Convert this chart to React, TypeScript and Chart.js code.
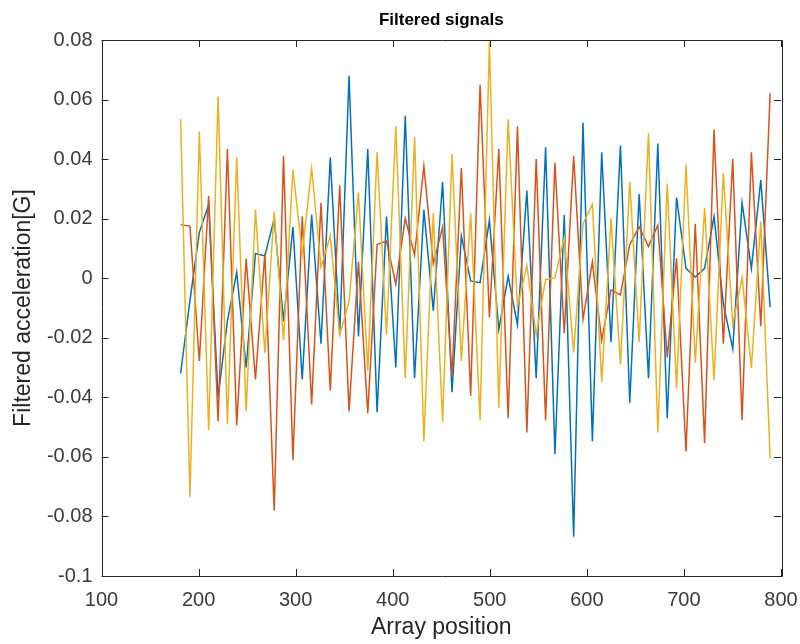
import React, { useEffect, useRef } from "react";
import { Chart, registerables } from "chart.js";

Chart.register(...registerables);

const positions = [
  181.5, 191.1, 200.8, 210.4, 220.1, 229.7, 239.3, 249.0, 258.6, 268.3,
  277.9, 287.5, 297.2, 306.8, 316.5, 326.1, 335.7, 345.4, 355.0, 364.7,
  374.3, 383.9, 393.6, 403.2, 412.9, 422.5, 432.1, 441.8, 451.4, 461.1,
  470.7, 480.3, 490.0, 499.6, 509.3, 518.9, 528.5, 538.2, 547.8, 557.5,
  567.1, 576.7, 586.4, 596.0, 605.7, 615.3, 624.9, 634.6, 644.2, 653.9,
  663.5, 673.1, 682.8, 692.4, 702.1, 711.7, 721.3, 731.0, 740.6, 750.3,
  759.9, 769.5, 779.2, 788.8,
];

const signal1 = [
  -0.032, -0.0075, 0.0154, 0.0247, -0.04, -0.0144, 0.002, -0.03, 0.0083, 0.0075,
  0.02, -0.0144, 0.0172, -0.034, 0.0213, -0.022, 0.0405, -0.019, 0.068, -0.0196,
  0.0434, -0.045, 0.0207, -0.03, 0.0545, -0.0336, 0.023, -0.0109, 0.0323, -0.0383,
  0.0142, -0.0009, -0.0015, 0.0195, -0.0173, 0.0006, -0.0156, 0.0294, -0.0336, 0.044,
  -0.059, 0.0213, -0.0868, 0.0522, -0.0547, 0.0423, -0.0214, 0.0446, -0.0418, 0.0283,
  -0.0336, 0.0452, -0.047, 0.0271, 0.0033, 0.0004, 0.0033, 0.0207, -0.0085, -0.0237,
  0.0253, 0.0033, 0.033, -0.0097,
];

const signal2 = [
  0.018, 0.0175, -0.0278, 0.0277, -0.048, 0.0434, -0.0494, 0.0066, -0.034, 0.0084,
  -0.078, 0.041, -0.061, 0.0207, -0.0424, 0.0253, -0.0377, 0.0312, -0.0447, 0.0055,
  -0.0453, 0.0113, 0.0125, -0.002, 0.0201, 0.0078, 0.0376, 0.0049, 0.0172, -0.033,
  0.037, -0.0395, 0.065, -0.0132, 0.0434, -0.047, 0.051, -0.0518, 0.04, -0.0477,
  0.0388, -0.0185, 0.0411, -0.0138, 0.0055, -0.0208, -0.0039, -0.0056, 0.0113, 0.0172,
  0.0107, 0.0178, -0.0266, 0.0067, -0.0582, 0.0183, -0.0553, 0.0499, -0.022, 0.04,
  -0.0477, 0.0423, -0.0161, 0.0621,
];

const signal3 = [
  0.0534, -0.0734, 0.0493, -0.051, 0.061, -0.049, 0.0405, -0.0447, 0.023, -0.025,
  0.0224, -0.0208, 0.0364, 0.0084, 0.037, 0.0037, 0.0142, -0.019, -0.008, 0.0288,
  -0.031, 0.0423, -0.019, 0.051, -0.0336, 0.0475, -0.0547, 0.0218, -0.0482, 0.0417,
  -0.0278, 0.0218, -0.0477, 0.0795, -0.0436, 0.0534, -0.0097, 0.0043, -0.019, -0.0004,
  0.0002, 0.0136, -0.0249, 0.0183, 0.0248, -0.0348, 0.0201, -0.029, 0.0323, -0.0214,
  0.0487, -0.0518, 0.0318, -0.0371, 0.0382, -0.0284, 0.0236, -0.0342, 0.0353, -0.0155,
  0.0002, -0.0301, 0.019, -0.0605,
];

const xTicks = [100, 200, 300, 400, 500, 600, 700, 800];
const yTicks = [-0.1, -0.08, -0.06, -0.04, -0.02, 0, 0.02, 0.04, 0.06, 0.08];

const FONT = "'Liberation Sans', Arial, Helvetica, sans-serif";

const toPoints = (ys: number[]) => ys.map((y, i) => ({ x: positions[i], y }));

const boxPlugin = {
  id: "matlabBox",
  afterDatasetsDraw(chart: any) {
    const { ctx, chartArea } = chart;
    const { left, right, top, bottom } = chartArea;
    const xs = chart.scales.x;
    const ys = chart.scales.y;
    ctx.save();
    ctx.strokeStyle = "#262626";
    ctx.lineWidth = 1;
    ctx.beginPath();
    ctx.rect(Math.round(left) + 0.5, Math.round(top) + 0.5, Math.round(right - left), Math.round(bottom - top));
    ctx.stroke();
    const tl = 7;
    ctx.beginPath();
    xTicks.forEach((v) => {
      const px = Math.round(xs.getPixelForValue(v)) + 0.5;
      ctx.moveTo(px, bottom);
      ctx.lineTo(px, bottom - tl);
      ctx.moveTo(px, top);
      ctx.lineTo(px, top + tl);
    });
    yTicks.forEach((v) => {
      const py = Math.round(ys.getPixelForValue(v)) + 0.5;
      ctx.moveTo(left, py);
      ctx.lineTo(left + tl, py);
      ctx.moveTo(right, py);
      ctx.lineTo(right - tl, py);
    });
    ctx.stroke();
    ctx.fillStyle = "#000000";
    ctx.font = "bold 17px " + FONT;
    ctx.textAlign = "center";
    ctx.textBaseline = "middle";
    ctx.fillText("Filtered signals", (left + right) / 2, 20);
    ctx.restore();
  },
};

export default function App() {
  const ref = useRef<HTMLCanvasElement | null>(null);

  useEffect(() => {
    document.body.style.margin = "0";
    if (!ref.current) return;
    const tickFont = { family: FONT, size: 20 };
    const chart = new Chart(ref.current, {
      type: "line",
      data: {
        datasets: [
          { label: "s1", data: toPoints(signal1), borderColor: "#0072BD", borderWidth: 1.5, pointRadius: 0, tension: 0, order: 3 },
          { label: "s2", data: toPoints(signal2), borderColor: "#D95319", borderWidth: 1.5, pointRadius: 0, tension: 0, order: 2 },
          { label: "s3", data: toPoints(signal3), borderColor: "#EDB120", borderWidth: 1.5, pointRadius: 0, tension: 0, order: 1 },
        ],
      },
      options: {
        responsive: false,
        animation: false,
        devicePixelRatio: 1,
        layout: { padding: { top: 40, right: 19, left: 0, bottom: 0 } },
        plugins: { legend: { display: false }, tooltip: { enabled: false }, title: { display: false } },
        scales: {
          x: {
            type: "linear",
            min: 100,
            max: 800,
            afterBuildTicks: (scale: any) => {
              scale.ticks = xTicks.map((v) => ({ value: v }));
            },
            afterFit: (scale: any) => {
              scale.height = 68;
              scale.paddingLeft = 0;
              scale.paddingRight = 0;
            },
            grid: { display: false, drawTicks: false },
            border: { display: false },
            ticks: { font: tickFont, color: "#3a3a3a", padding: 12, maxRotation: 0, autoSkip: false, callback: (v: any) => String(v) },
            title: { display: true, text: "Array position", font: { family: FONT, size: 23 }, color: "#262626", padding: { top: 0, bottom: 3 } },
          },
          y: {
            type: "linear",
            min: -0.1,
            max: 0.08,
            afterBuildTicks: (scale: any) => {
              scale.ticks = yTicks.map((v) => ({ value: v }));
            },
            afterFit: (scale: any) => {
              scale.width = 101.5;
              scale.paddingTop = 0;
              scale.paddingBottom = 0;
            },
            grid: { display: false, drawTicks: false },
            border: { display: false },
            ticks: { font: tickFont, color: "#3a3a3a", padding: 9, autoSkip: false, callback: (v: any) => String(Math.round(Number(v) * 100) / 100) },
            title: { display: true, text: "Filtered acceleration[G]", font: { family: FONT, size: 23 }, color: "#262626", padding: { top: 10, bottom: 0 } },
          },
        },
      },
      plugins: [boxPlugin],
    });
    return () => chart.destroy();
  }, []);

  return (
    <div style={{ width: 800, height: 644, background: "#ffffff" }}>
      <canvas ref={ref} width={800} height={644} style={{ display: "block" }} />
    </div>
  );
}
